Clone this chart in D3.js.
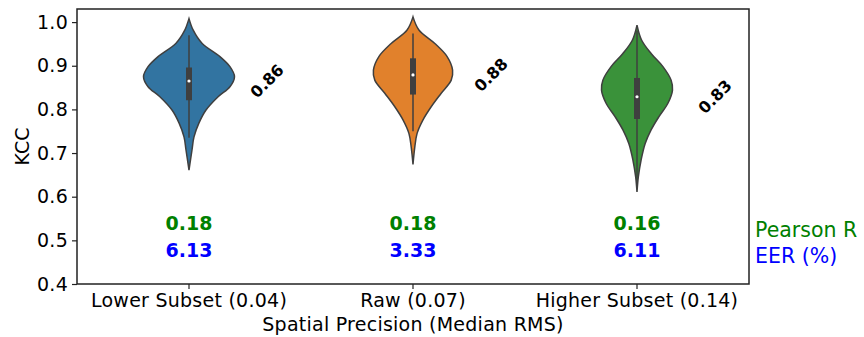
<!DOCTYPE html>
<html>
<head>
<meta charset="utf-8">
<script src="https://cdn.jsdelivr.net/npm/d3@7"></script>
<style>
  body { margin: 0; background: #fff; }
  text { font-family: "DejaVu Sans", sans-serif; }
</style>
</head>
<body>
<script>
// categories and labels
var groups = ["Lower Subset (0.04)", "Raw (0.07)", "Higher Subset (0.14)"];
var colors = ["#3274a1", "#e1812c", "#3a923a"];
var yTicks = [0.4, 0.5, 0.6, 0.7, 0.8, 0.9, 1.0];

// violin outlines: KCC level and relative density
var kccLower = [1.008, 0.982, 0.951, 0.921, 0.898, 0.875, 0.852, 0.829, 0.798, 0.769, 0.737, 0.707, 0.661];
var densLower = [0, 0.09, 0.29, 0.68, 0.90, 1.0, 0.90, 0.64, 0.37, 0.22, 0.11, 0.066, 0];
var kccRaw = [1.012, 0.982, 0.951, 0.921, 0.890, 0.867, 0.837, 0.806, 0.776, 0.745, 0.714, 0.674];
var densRaw = [0, 0.13, 0.48, 0.75, 0.87, 0.84, 0.62, 0.40, 0.22, 0.09, 0.04, 0];
var kccHigher = [0.993, 0.959, 0.928, 0.898, 0.867, 0.844, 0.814, 0.783, 0.753, 0.722, 0.684, 0.646, 0.611];
var densHigher = [0, 0.10, 0.31, 0.57, 0.75, 0.78, 0.68, 0.48, 0.31, 0.18, 0.09, 0.03, 0];

// box stats: q1, median, q3, whisker low, whisker high
var q1 = [0.821, 0.834, 0.778];
var medians = [0.865, 0.879, 0.829];
var q3 = [0.896, 0.917, 0.872];
var whiskLo = [0.735, 0.750, 0.63];
var whiskHi = [0.970, 0.974, 0.98];

// annotations
var medianLabels = ["0.86", "0.88", "0.83"];
var pearsonR = ["0.18", "0.18", "0.16"];
var eer = ["6.13", "3.33", "6.11"];

var kccs = [kccLower, kccRaw, kccHigher];
var dens = [densLower, densRaw, densHigher];

var w = 864, h = 337;
var margin = {top: 9, right: 115, bottom: 53, left: 77};

var svg = d3.select("body").append("svg")
    .attr("width", w)
    .attr("height", h);

var xScale = d3.scaleBand()
    .domain(groups)
    .range([margin.left, w - margin.right]);

var yScale = d3.scaleLinear()
    .domain([0.4, 1.03])
    .range([h - margin.bottom, margin.top]);

var wScale = d3.scaleLinear()
    .domain([0, 1])
    .range([0, 45.5]);

// violins
groups.forEach(function (g, i) {
    var cx = xScale(g) + xScale.bandwidth() / 2;
    var pts = kccs[i].map(function (k, j) { return [k, dens[i][j]]; });

    var area = d3.area()
        .y(function (d) { return yScale(d[0]); })
        .x0(function (d) { return cx - wScale(d[1]); })
        .x1(function (d) { return cx + wScale(d[1]); })
        .curve(d3.curveCatmullRom);

    svg.append("path")
        .datum(pts)
        .attr("d", area)
        .attr("fill", colors[i])
        .attr("stroke", "#3f3f3f")
        .attr("stroke-width", 1.5);

    svg.append("line")
        .attr("x1", cx).attr("x2", cx)
        .attr("y1", yScale(whiskLo[i]))
        .attr("y2", yScale(whiskHi[i]))
        .attr("stroke", "#3f3f3f")
        .attr("stroke-width", 1.5);

    svg.append("rect")
        .attr("x", cx - 3)
        .attr("width", 6)
        .attr("y", yScale(q3[i]))
        .attr("height", yScale(q1[i]) - yScale(q3[i]))
        .attr("fill", "#3f3f3f");

    svg.append("circle")
        .attr("cx", cx)
        .attr("cy", yScale(medians[i]))
        .attr("r", 1.6)
        .attr("fill", "#fff");

    svg.append("text")
        .attr("transform", "translate(" + (cx + 78) + "," + yScale(medians[i]) + ") rotate(-45)")
        .attr("text-anchor", "middle")
        .attr("dy", "0.35em")
        .attr("font-size", 16)
        .attr("font-weight", "bold")
        .attr("fill", "#000")
        .text(medianLabels[i]);

    svg.append("text")
        .attr("x", cx)
        .attr("y", yScale(0.54))
        .attr("dy", "0.35em")
        .attr("text-anchor", "middle")
        .attr("font-size", 19)
        .attr("font-weight", "bold")
        .attr("fill", "green")
        .text(pearsonR[i]);

    svg.append("text")
        .attr("x", cx)
        .attr("y", yScale(0.476))
        .attr("dy", "0.35em")
        .attr("text-anchor", "middle")
        .attr("font-size", 19)
        .attr("font-weight", "bold")
        .attr("fill", "blue")
        .text(eer[i]);
});

// axes
var xAxis = d3.axisBottom(xScale).tickSize(5).tickPadding(5);
var gx = svg.append("g")
    .attr("transform", "translate(0," + (h - margin.bottom) + ")")
    .call(xAxis);

var yAxis = d3.axisLeft(yScale).tickValues(yTicks).tickFormat(d3.format(".1f")).tickSize(5).tickPadding(4);
var gy = svg.append("g")
    .attr("transform", "translate(" + margin.left + ",0)")
    .call(yAxis);

[gx, gy].forEach(function (g) {
    g.select(".domain").remove();
    g.selectAll(".tick line").attr("stroke", "#222").attr("stroke-width", 1.2);
    g.selectAll(".tick text")
        .attr("font-size", 19)
        .attr("fill", "#000")
        .style("letter-spacing", "0.25px")
        .style("font-family", "DejaVu Sans");
});

// frame
svg.append("rect")
    .attr("x", margin.left)
    .attr("y", margin.top)
    .attr("width", w - margin.left - margin.right)
    .attr("height", h - margin.top - margin.bottom)
    .attr("fill", "none")
    .attr("stroke", "#222")
    .attr("stroke-width", 1.5);

// axis titles
svg.append("text")
    .attr("x", (margin.left + w - margin.right) / 2)
    .attr("y", 331)
    .attr("text-anchor", "middle")
    .attr("font-size", 19)
    .style("letter-spacing", "0.25px")
    .text("Spatial Precision (Median RMS)");

svg.append("text")
    .attr("transform", "translate(22," + ((margin.top + h - margin.bottom) / 2) + ") rotate(-90)")
    .attr("text-anchor", "middle")
    .attr("dy", "0.35em")
    .attr("font-size", 19)
    .text("KCC");

// side legend text
svg.append("text")
    .attr("x", 755)
    .attr("y", 237)
    .attr("font-size", 20.5)
    .attr("fill", "green")
    .text("Pearson R");

svg.append("text")
    .attr("x", 755)
    .attr("y", 263)
    .attr("font-size", 20.5)
    .attr("fill", "blue")
    .text("EER (%)");
</script>
</body>
</html>
